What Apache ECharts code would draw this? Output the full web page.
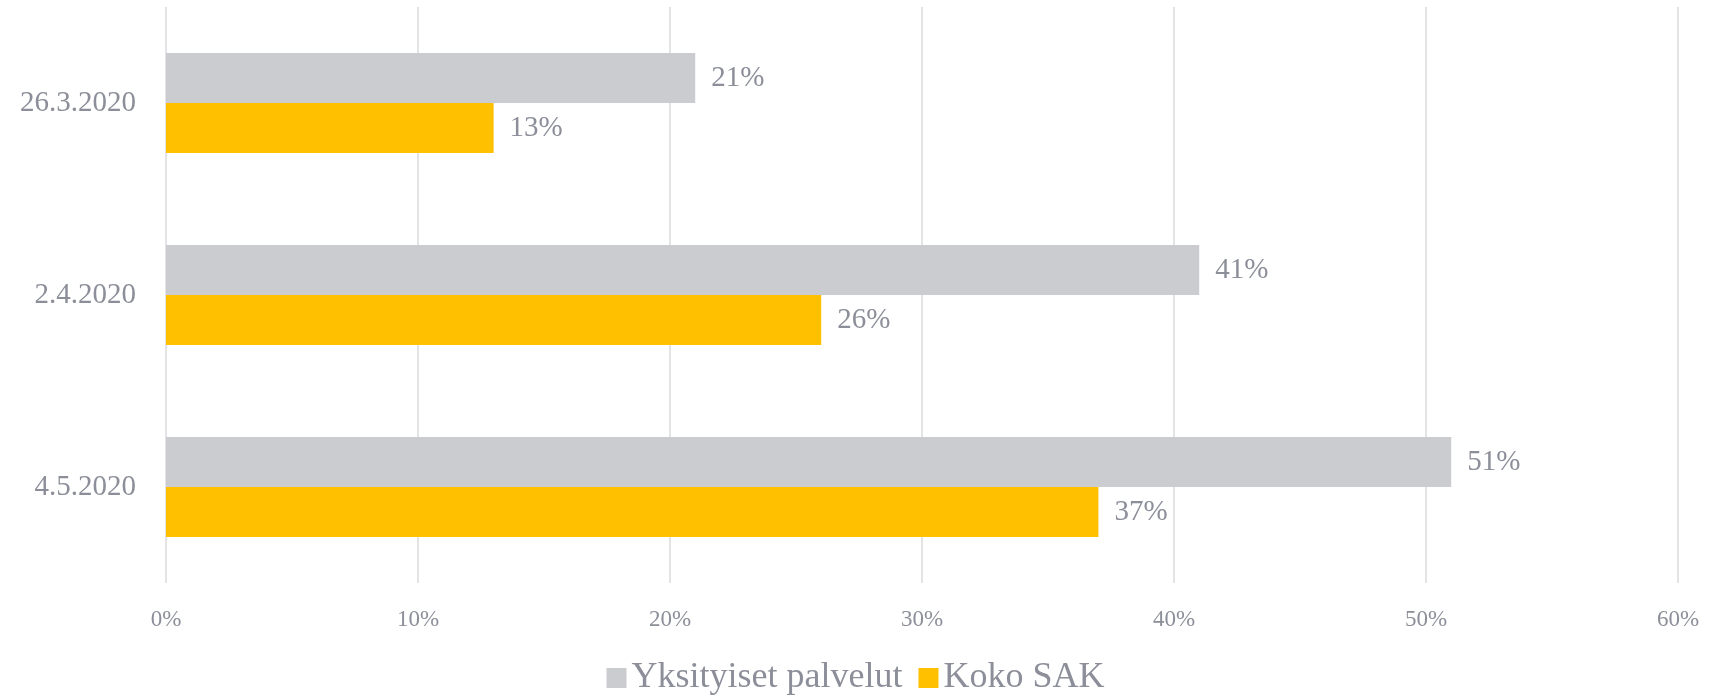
<!DOCTYPE html>
<html>
<head>
<meta charset="utf-8">
<script src="https://cdn.jsdelivr.net/npm/echarts@6/dist/echarts.min.js"></script>
<style>
  html, body { margin: 0; padding: 0; background: #fff; }
  #chart { width: 1711px; height: 695px; }
</style>
</head>
<body>
<div id="chart"></div>
<script>
// kyselyajankohdat ylhäältä alas
const dates = ["26.3.2020", "2.4.2020", "4.5.2020"];
const yksityisetPalvelut = [21, 41, 51];
const kokoSak = [13, 26, 37];
const xTicks = [0, 10, 20, 30, 40, 50, 60];

const textColor = "#8c8f99";
const font = "'Liberation Serif', 'DejaVu Serif', serif";

const chart = echarts.init(document.getElementById("chart"));
chart.setOption({
  animation: false,
  textStyle: { fontFamily: font },
  grid: { left: 166, right: 33, top: 7, height: 576, containLabel: false },
  legend: {
    top: 655,
    left: "center",
    itemWidth: 20,
    itemHeight: 20,
    itemGap: 16,
    icon: "rect",
    textStyle: { fontFamily: font, fontSize: 36, color: textColor },
    data: ["Yksityiset palvelut", "Koko SAK"]
  },
  xAxis: {
    type: "value",
    min: xTicks[0],
    max: xTicks[xTicks.length - 1],
    interval: 10,
    axisLine: { show: false },
    axisTick: { show: false },
    axisLabel: {
      formatter: "{value}%",
      fontFamily: font,
      fontSize: 23,
      color: textColor,
      margin: 25
    },
    splitLine: { lineStyle: { color: "#e4e4e6", width: 2 } }
  },
  yAxis: {
    type: "category",
    inverse: true,
    data: dates,
    axisLine: { show: false },
    axisTick: { show: false },
    axisLabel: { fontFamily: font, fontSize: 29, color: textColor, margin: 30 }
  },
  series: [
    {
      name: "Yksityiset palvelut",
      type: "bar",
      data: yksityisetPalvelut,
      barGap: "0%",
      barCategoryGap: "48%",
      itemStyle: { color: "#cbccd0" },
      label: {
        show: true,
        position: "right",
        distance: 16,
        formatter: "{c}%",
        fontFamily: font,
        fontSize: 29,
        color: textColor
      }
    },
    {
      name: "Koko SAK",
      type: "bar",
      data: kokoSak,
      barGap: "0%",
      barCategoryGap: "48%",
      itemStyle: { color: "#ffc000" },
      label: {
        show: true,
        position: "right",
        distance: 16,
        formatter: "{c}%",
        fontFamily: font,
        fontSize: 29,
        color: textColor
      }
    }
  ]
});
</script>
</body>
</html>
